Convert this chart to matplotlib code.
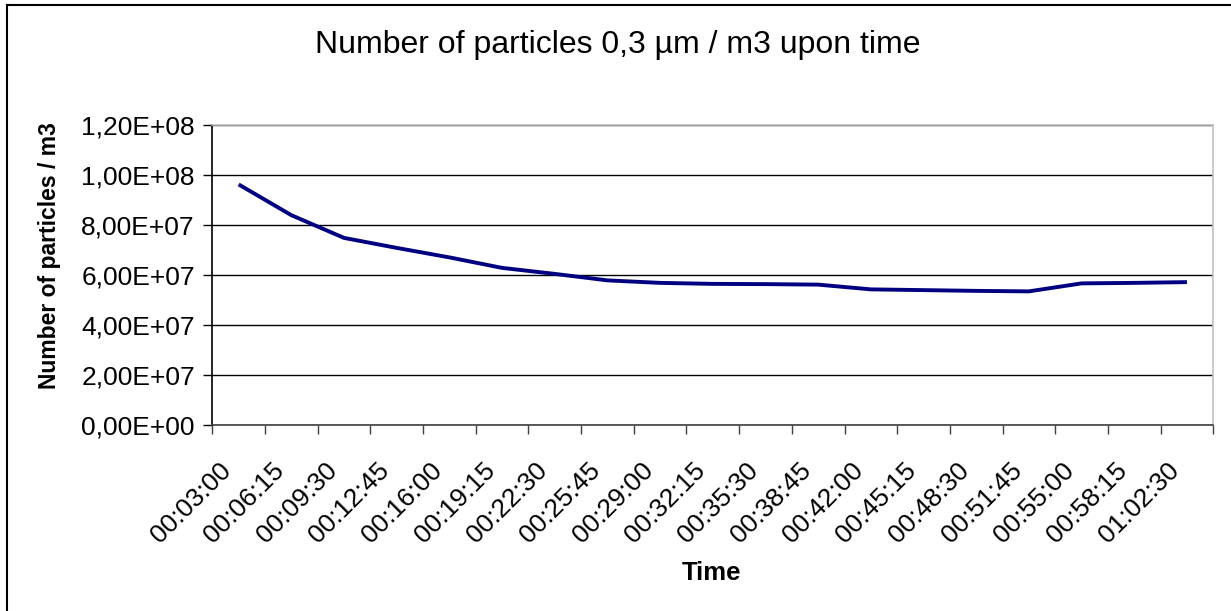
import matplotlib
matplotlib.use("Agg")
from matplotlib import pyplot as plt
from matplotlib import transforms
from matplotlib.lines import Line2D
from matplotlib.ticker import FuncFormatter, FixedLocator

plt.rcParams['font.family'] = ['Liberation Sans', 'DejaVu Sans']

# data
times = ["00:03:00", "00:06:15", "00:09:30", "00:12:45", "00:16:00", "00:19:15",
         "00:22:30", "00:25:45", "00:29:00", "00:32:15", "00:35:30", "00:38:45",
         "00:42:00", "00:45:15", "00:48:30", "00:51:45", "00:55:00", "00:58:15",
         "01:02:30"]
particles = [9.63e7, 8.40e7, 7.49e7, 7.09e7, 6.71e7, 6.29e7,
             6.05e7, 5.79e7, 5.69e7, 5.65e7, 5.64e7, 5.62e7,
             5.43e7, 5.40e7, 5.37e7, 5.35e7, 5.67e7, 5.69e7,
             5.72e7]
y_ticks = [0, 2e7, 4e7, 6e7, 8e7, 1e8, 1.2e8]

fig = plt.figure(figsize=(12.31, 6.11), dpi=100)
ax = fig.add_axes([0.1725, 0.3044, 0.8131, 0.4906])

x = list(range(len(times)))
ax.plot(x, particles, color="#000080", lw=2.8, solid_capstyle="butt")

ax.set_xlim(-0.5, len(times) - 0.5)
ax.set_ylim(0, 1.2e8)

# y axis
ax.set_yticks(y_ticks)
ax.yaxis.set_major_formatter(FuncFormatter(lambda v, p: f"{v:.2E}".replace(".", ",")))
ax.tick_params(axis="y", length=6.5, width=1, labelsize=19, pad=6, color="#000000")
ax.grid(axis="y", color="black", lw=1)
ax.set_axisbelow(True)

# x axis: ticks between categories, labels at centers
ax.xaxis.set_major_locator(FixedLocator([i - 0.5 for i in range(len(times) + 1)]))
ax.xaxis.set_major_formatter(FuncFormatter(lambda v, p: ""))
ax.xaxis.set_minor_locator(FixedLocator(x))
ax.set_xticklabels(times, minor=True)
ax.tick_params(axis="x", which="major", length=6.5, width=1, color="#404040")
ax.tick_params(axis="x", which="minor", length=0, labelsize=19, pad=0)
off = transforms.ScaledTranslation(-11 / 100, -42 / 100, fig.dpi_scale_trans)
for lab in ax.xaxis.get_minorticklabels():
    lab.set_rotation(45)
    lab.set_rotation_mode("anchor")
    lab.set_ha("right")
    lab.set_va("center")
    lab.set_transform(lab.get_transform() + off)

ax.spines["left"].set_color("#000000")
ax.spines["bottom"].set_color("#404040")
ax.spines["top"].set_color("#c0c0c0")
ax.spines["right"].set_color("#c0c0c0")
for s in ax.spines.values():
    s.set_linewidth(1.2)

fig.text(50 / 1231, 1 - 256 / 611, "Number of particles / m3", fontsize=16.5,
         fontweight="bold", rotation=90, ha="center", va="center")
fig.text(712 / 1231, 1 - 573 / 611, "Time", fontsize=18.5, fontweight="bold",
         ha="center", va="center")
fig.text(618 / 1231, 1 - 45 / 611, "Number of particles 0,3 µm / m3 upon time",
         fontsize=23, ha="center", va="center")

# outer chart border (only left and top visible)
fig.add_artist(Line2D([7 / 1231, 7 / 1231], [0, 1 - 5 / 611], color="black", lw=1.5))
fig.add_artist(Line2D([7 / 1231, 1], [1 - 5 / 611, 1 - 5 / 611], color="black", lw=1.5))

fig.savefig("out.png", dpi=100)
